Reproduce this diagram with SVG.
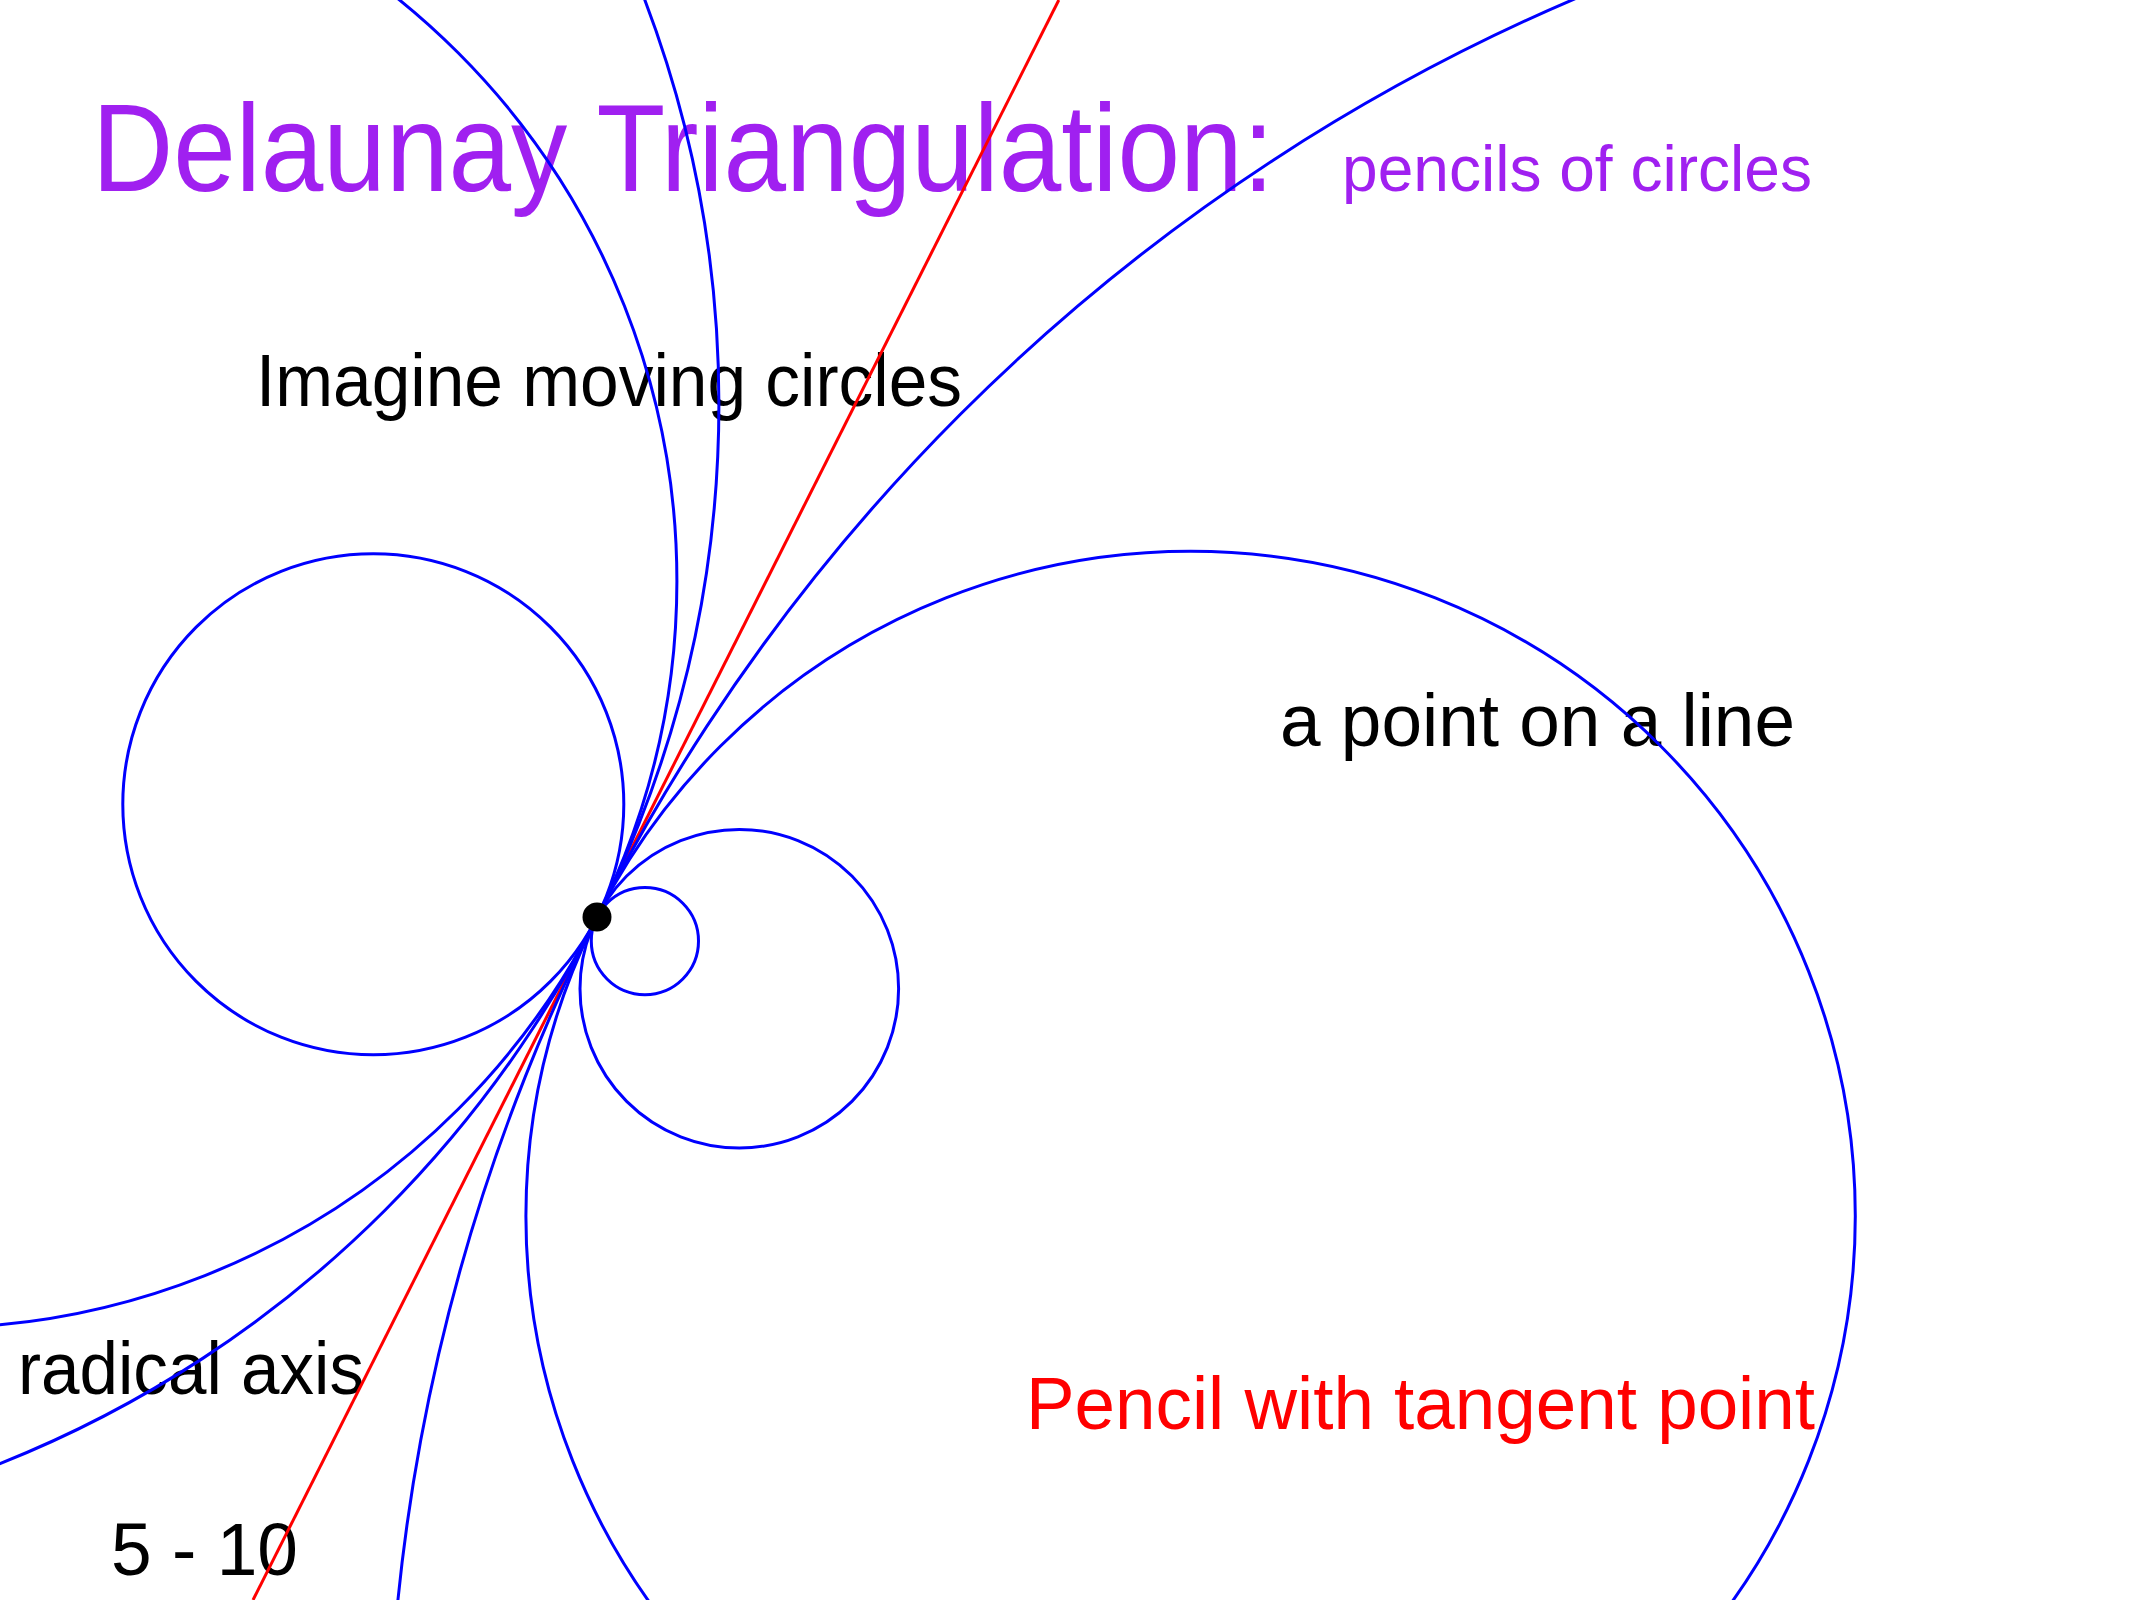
<svg xmlns="http://www.w3.org/2000/svg" width="2134" height="1600" viewBox="0 0 2134 1600">
<style>
  .bg { fill: #ffffff; }
  .t { font-family: "Liberation Sans", Arial, sans-serif; }
  .title { fill: #A020F0; font-size: 125px; }
  .sub { fill: #A020F0; font-size: 64px; }
  .txt { fill: #000000; font-size: 75px; }
  .red { fill: #FF0000; font-size: 75px; }
  .circ { fill: none; stroke: #0000FF; stroke-width: 3; }
  .line { fill: none; stroke: #FF0000; stroke-width: 3; }
</style>
<rect class="bg" x="0" y="0" width="2134" height="1600"/>
<g id="texts">
  <text id="title" class="t title" transform="translate(92,191) scale(0.9,1)" x="0" y="0">Delaunay Triangulation:</text>
  <text id="subtitle" class="t sub" x="1342" y="191" textLength="470" lengthAdjust="spacingAndGlyphs">pencils of circles</text>
  <text id="label-imagine" class="t txt" x="256" y="406" textLength="706" lengthAdjust="spacingAndGlyphs">Imagine moving circles</text>
  <text id="label-point" class="t txt" x="1280" y="746" textLength="515" lengthAdjust="spacingAndGlyphs">a point on a line</text>
  <text id="label-radical" class="t txt" x="18" y="1394" textLength="346" lengthAdjust="spacingAndGlyphs">radical axis</text>
  <text id="label-pencil" class="t red" x="1026" y="1429" textLength="789" lengthAdjust="spacingAndGlyphs">Pencil with tangent point</text>
  <text id="label-page" class="t txt" x="111" y="1575" textLength="187" lengthAdjust="spacingAndGlyphs">5 - 10</text>
</g>
<g id="connectors">
  <line id="tangent-line" class="line" x1="1058.8" y1="0" x2="253" y2="1600"/>
</g>
<g id="circle-left-1"><circle class="circ" cx="373.3" cy="804.3" r="250.5"/></g>
<g id="circle-left-2"><circle class="circ" cx="-70.1" cy="581" r="747"/></g>
<g id="circle-left-3"><circle class="circ" cx="-421.1" cy="404.2" r="1140"/></g>
<g id="circle-right-1"><circle class="circ" cx="644.9" cy="941.1" r="53.6"/></g>
<g id="circle-right-2"><circle class="circ" cx="739.3" cy="988.7" r="159.3"/></g>
<g id="circle-right-3"><circle class="circ" cx="1190.6" cy="1216" r="664.7"/></g>
<g id="circle-right-4"><circle class="circ" cx="2342.1" cy="1795.9" r="1954"/></g>
<g id="tangent-point"><circle cx="597" cy="917" r="14.5" fill="#000000"/></g>
</svg>
